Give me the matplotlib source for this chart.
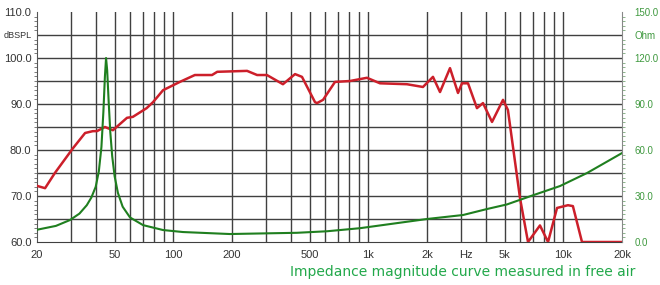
import matplotlib
matplotlib.use("Agg")
import matplotlib.pyplot as plt
from matplotlib.ticker import FixedLocator, NullFormatter

# SPL response (left axis, dB)
spl_freq = [20, 22, 24.7, 30.6, 35.3, 38.7, 40.6, 44.6, 49, 57.9, 62, 73, 78.7, 88.6,
            108, 129, 158, 168, 239, 269, 302, 365, 421, 457, 533, 546, 586, 675,
            806, 984, 1148, 1578, 1907, 2146, 2332, 2624, 2884, 3024, 3246, 3608,
            3874, 4310, 4908, 5200, 6000, 6592, 7592, 8352, 9286, 10570, 11200,
            12470, 20000]
spl_db = [72.2, 71.7, 75.0, 80.4, 83.7, 84.1, 84.1, 85.0, 84.3, 87.0, 87.2, 89.1,
          90.4, 93.0, 94.8, 96.3, 96.3, 97.0, 97.2, 96.3, 96.3, 94.3, 96.5, 95.9,
          90.4, 90.2, 90.9, 94.8, 95.0, 95.7, 94.5, 94.3, 93.7, 95.9, 92.6, 97.8,
          92.4, 94.5, 94.5, 89.1, 90.2, 86.1, 90.9, 88.7, 69.5, 60.0, 63.6, 60.0,
          67.4, 68.0, 67.8, 60.0, 60.0]

# Impedance magnitude (right axis, Ohm)
imp_freq = [20, 25, 29.5, 33, 36, 38, 40, 41.5, 42.8, 43.8, 44.6, 45.2, 45.8, 46.6,
            47.5, 48.6, 50, 52, 55, 60, 70, 88.6, 112, 195, 288, 430, 614, 906,
            2000, 3060, 4060, 5140, 7000, 9620, 13240, 20000]
imp_ohm = [8.0, 10.5, 14.3, 18.5, 24.0, 29.0, 36.0, 46.0, 62.0, 85.0, 108.0, 120.0,
           112.0, 92.0, 72.0, 56.0, 43.0, 32.0, 23.0, 16.0, 11.0, 7.8, 6.5, 5.2, 5.6,
           6.0, 7.0, 9.0, 15.0, 17.6, 21.5, 24.5, 30.5, 36.5, 45.0, 58.0]

x_ticks = [20, 50, 100, 200, 500, 1000, 2000, 3162, 5000, 10000, 20000]
x_labels = ["20", "50", "100", "200", "500", "1k", "2k", "Hz", "5k", "10k", "20k"]
left_ticks = [60, 70, 80, 90, 100, 105, 110]
left_labels = ["60.0", "70.0", "80.0", "90.0", "100.0", "dBSPL", "110.0"]
right_ticks = [0, 30, 60, 90, 120, 135, 150]
right_labels = ["0.0", "30.0", "60.0", "90.0", "120.0", "Ohm", "150.0"]
caption = "Impedance magnitude curve measured in free air"

TICKFONT = "Liberation Sans"

fig = plt.figure(figsize=(6.6, 2.85), dpi=100)
ax = fig.add_axes([37/660, 1-242/285, (622-37)/660, (242-12)/285])
ax.set_xscale("log")
ax.set_xlim(20, 20000)
ax.set_ylim(60, 110)

grid_x = [m * 10**e for e in range(1, 5) for m in range(1, 10)]
grid_x = [g for g in grid_x if 20 < g < 20000]
for g in grid_x:
    ax.axvline(g, color="#404040", lw=1.0, zorder=0.5)
for h in range(65, 110, 5):
    ax.axhline(h, color="#404040", lw=1.0, zorder=0.5)

ax.xaxis.set_major_locator(FixedLocator(x_ticks))
ax.xaxis.set_minor_locator(FixedLocator([]))
ax.xaxis.set_minor_formatter(NullFormatter())
ax.set_xticklabels(x_labels, fontfamily=TICKFONT)
ax.tick_params(axis="x", length=0, pad=6, labelsize=8, colors="#333333")

ax.yaxis.set_major_locator(FixedLocator(left_ticks))
ylabels = ax.set_yticklabels(left_labels, fontfamily=TICKFONT)
ax.yaxis.set_minor_locator(FixedLocator(list(range(60, 111))))
ax.tick_params(axis="y", which="major", length=0, pad=4, labelsize=8, colors="#333333")
ax.tick_params(axis="y", which="minor", length=2, color="#666666")
for t in ylabels:
    if t.get_text() == "dBSPL":
        t.set_fontsize(6.5)

for s in ["top", "right"]:
    ax.spines[s].set_visible(False)
ax.spines["left"].set_color("#555555")
ax.spines["bottom"].set_color("#404040")

ax.plot(spl_freq, spl_db, color="#cc1f2a", lw=1.8, zorder=3)

ax2 = ax.twinx()
ax2.set_ylim(0, 150)
ax2.plot(imp_freq, imp_ohm, color="#1f7f1f", lw=1.5, zorder=2)
ax2.yaxis.set_major_locator(FixedLocator(right_ticks))
ax2.set_yticklabels(right_labels, fontfamily=TICKFONT)
ax2.yaxis.set_minor_locator(FixedLocator(list(range(0, 151, 3))))
ax2.tick_params(axis="y", which="major", length=0, pad=9, labelsize=7, colors="#3f993f")
ax2.tick_params(axis="y", which="minor", length=2, color="#7aa87a")
for s in ["top", "left", "bottom"]:
    ax2.spines[s].set_visible(False)
ax2.spines["right"].set_color("#888888")

fig.text(0.963, 0.046, caption, ha="right", va="center", color="#22a84a", fontsize=10)

fig.savefig("out.png", dpi=100)
